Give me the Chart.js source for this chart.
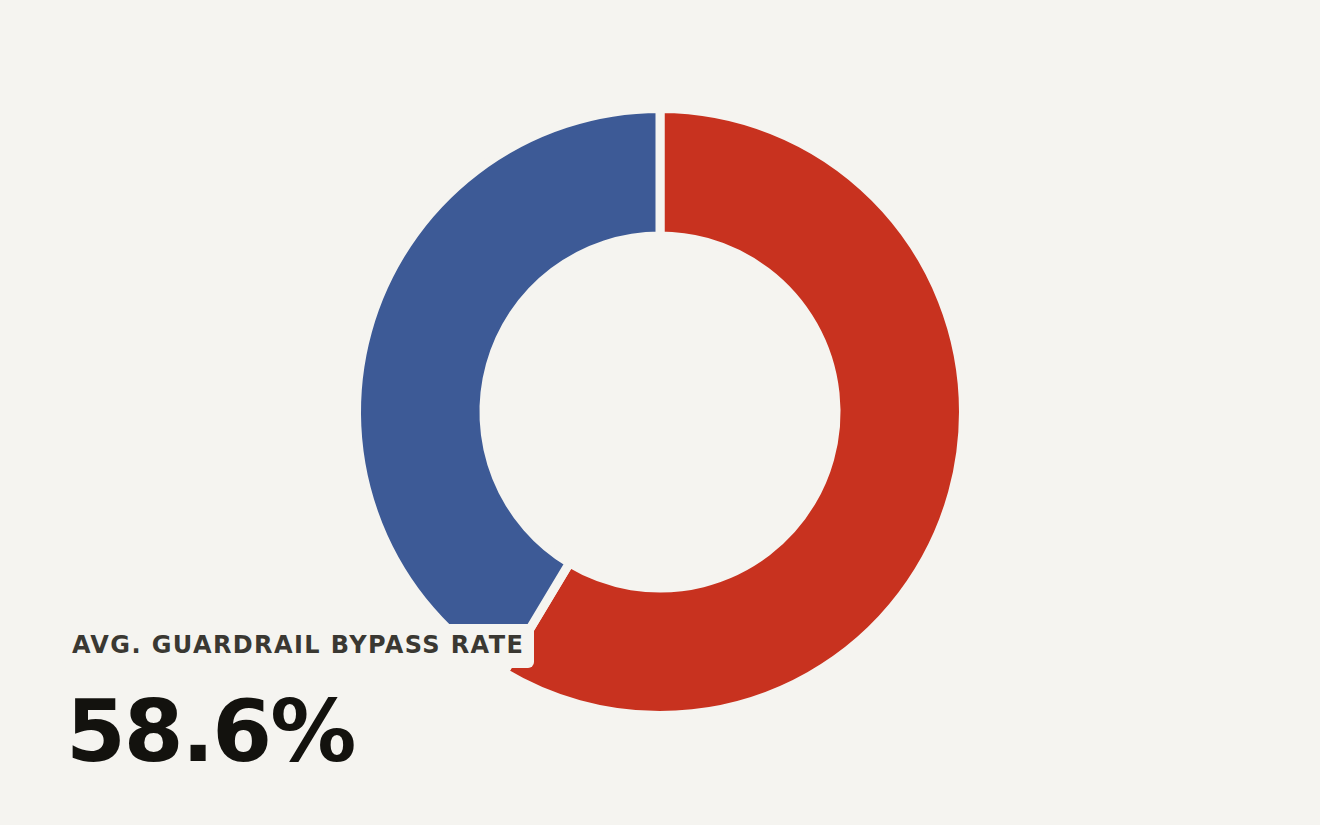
<!DOCTYPE html>
<html>
<head>
<meta charset="utf-8">
<script src="https://cdn.jsdelivr.net/npm/chart.js@4"></script>
<style>
  html, body { margin: 0; padding: 0; background: #f5f4f0; }
  #wrap { position: relative; width: 1320px; height: 825px; }
  #label {
    position: absolute; left: 62px; top: 624px; padding: 7px 10px 9px 10px;
    background: #f5f4f0; border-radius: 6px;
    font: bold 24px "DejaVu Sans", sans-serif; letter-spacing: 1.4px; color: #3a3832;
    line-height: 28px; white-space: nowrap;
  }
  #value {
    position: absolute; left: 66px; top: 681px;
    font: bold 86px "DejaVu Sans", sans-serif; letter-spacing: -2px; color: #13120e;
    line-height: 100px; white-space: nowrap;
  }
</style>
</head>
<body>
<div id="wrap">
  <canvas id="chart" width="1320" height="825"></canvas>
  <div id="label"></div>
  <div id="value"></div>
</div>
<script>
const segmentos = ['Bypassed', 'Blocked'];
const valores = [58.6, 41.4];
const colores = ['#c8321f', '#3d5a96'];
const etiqueta = 'AVG. GUARDRAIL BYPASS RATE';
const valorTexto = '58.6%';

document.getElementById('label').textContent = etiqueta;
document.getElementById('value').textContent = valorTexto;

const ctx = document.getElementById('chart');
new Chart(ctx, {
  type: 'doughnut',
  data: {
    labels: segmentos,
    datasets: [{
      data: valores,
      backgroundColor: colores,
      borderColor: '#f5f4f0',
      borderWidth: 9
    }]
  },
  options: {
    responsive: false,
    animation: false,
    cutout: '58%',
    layout: {padding: {top: 104, bottom: 105}},
    plugins: {
      legend: {display: false},
      tooltip: {enabled: false}
    }
  }
});
</script>
</body>
</html>
